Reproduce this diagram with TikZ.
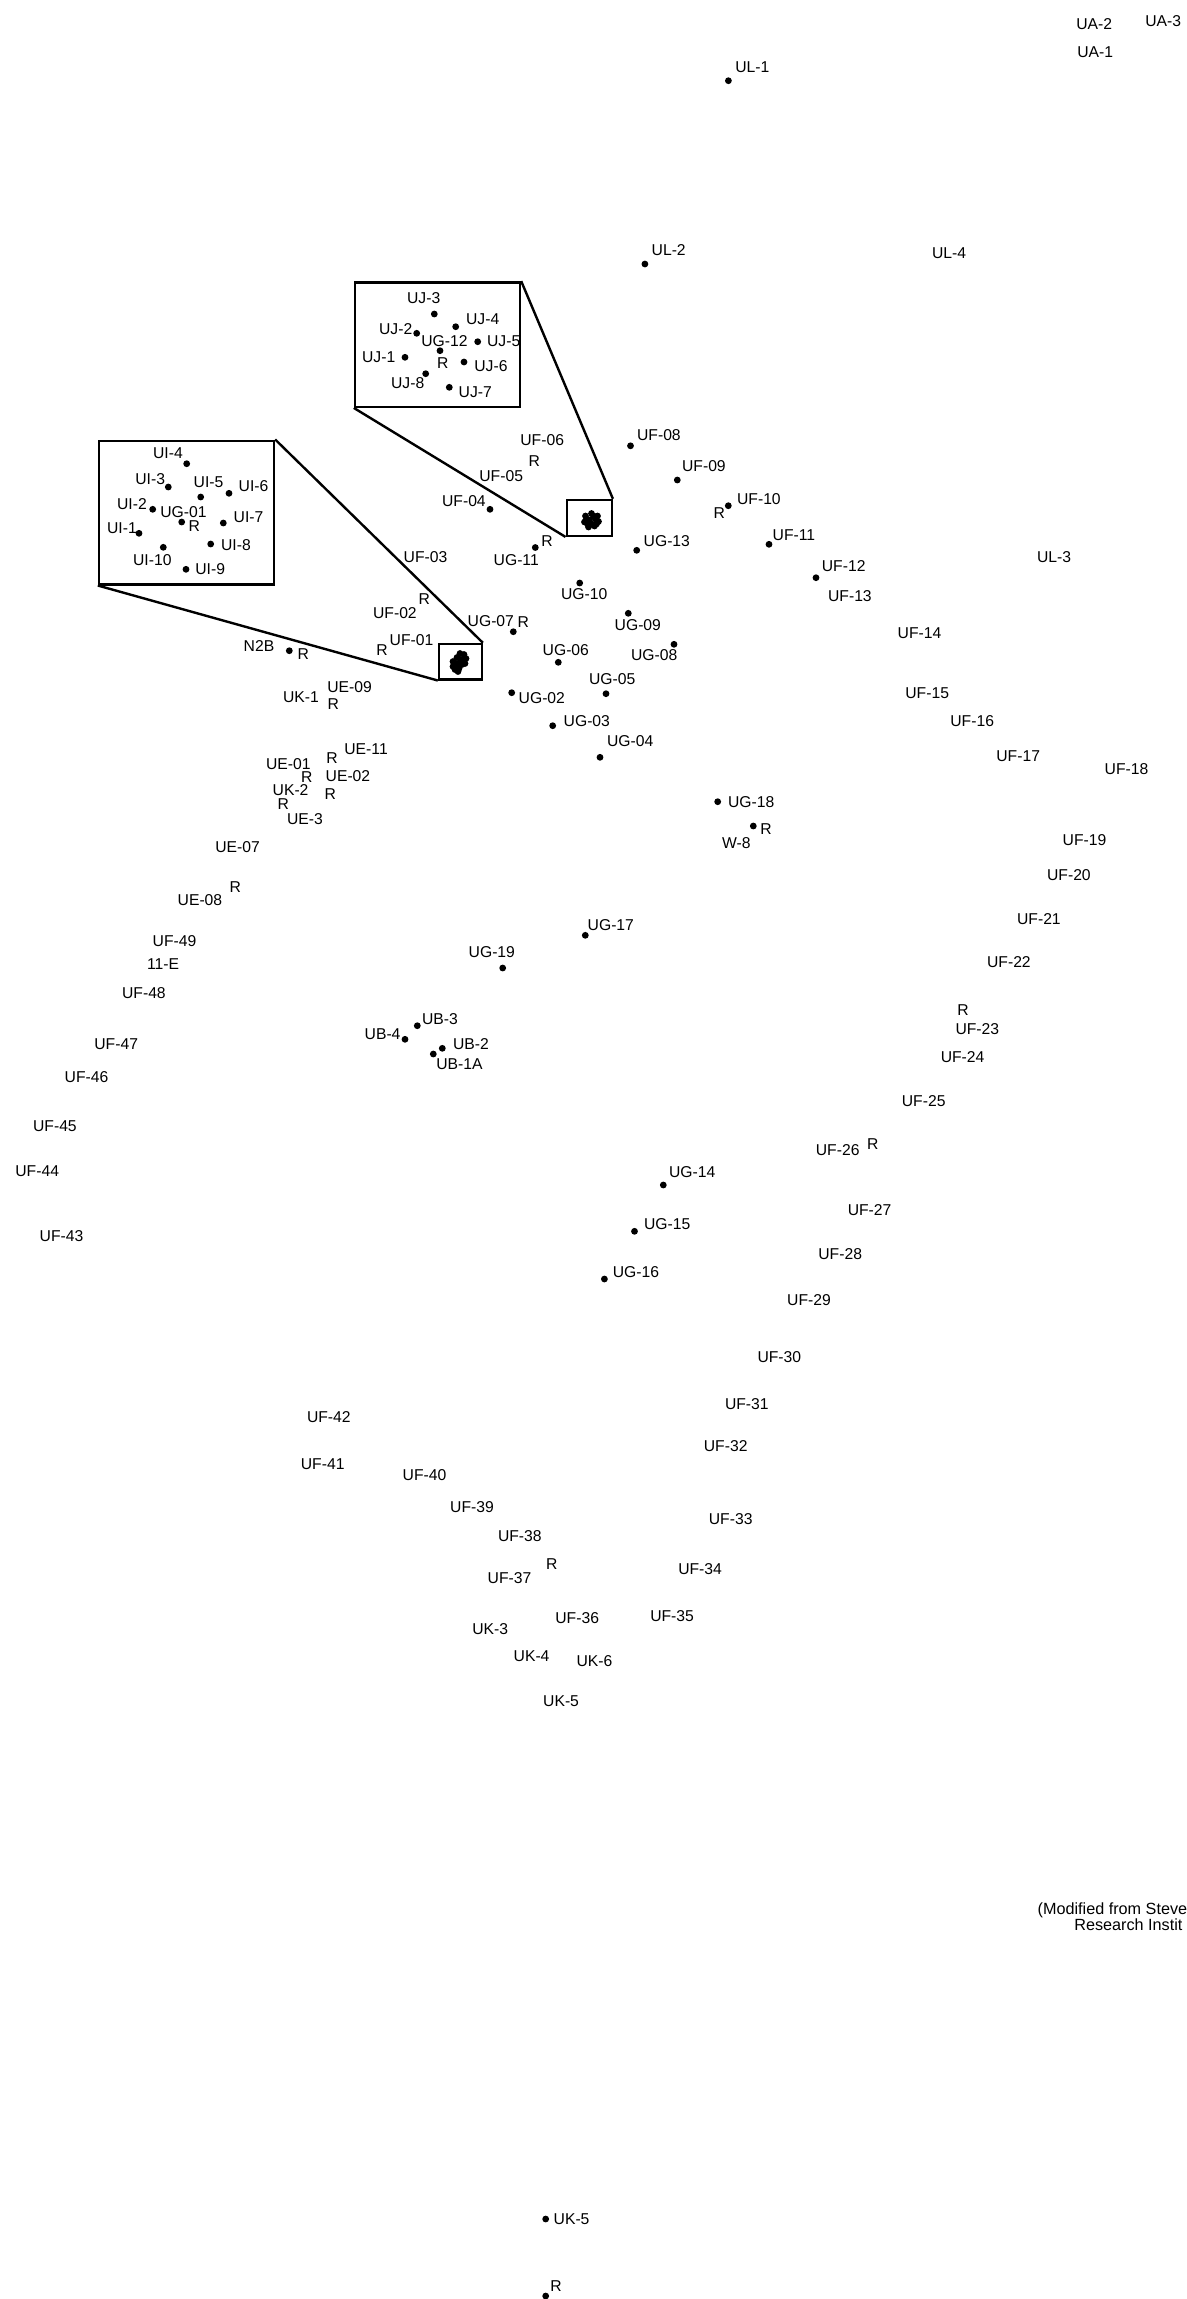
\documentclass[tikz,border=0pt]{standalone}
\usepackage{fontspec}
\setmainfont{Liberation Sans}
\begin{document}
\begin{tikzpicture}[x=0.5pt,y=-0.5pt,
  lbl/.style={anchor=base west,inner sep=0pt,font=\fontsize{7.85}{9}\selectfont},
  notelbl/.style={anchor=base west,inner sep=0pt,font=\fontsize{8.1}{9}\selectfont},
  dot/.style={circle,fill=black,inner sep=0pt,minimum size=3.4pt},
  frame/.style={draw=black,line width=1.2pt,inner sep=0pt},
  zoomline/.style={draw=black,line width=1.2pt}]
\fill[white] (0,0) rectangle (1187,2299);
\useasboundingbox (0,0) rectangle (1187,2299);
% inset frames
\node[frame,minimum width=82.5pt,minimum height=62.2pt] (ujbig) at (437.5,344.5) {};
\node[frame,minimum width=22.5pt,minimum height=17.85pt] (ujsmall) at (589.2,517.85) {};
\node[frame,minimum width=87.5pt,minimum height=71.8pt] (uibig) at (186.5,512.5) {};
\node[frame,minimum width=21.35pt,minimum height=17.65pt] (uismall) at (460.35,661.65) {};
\draw[zoomline] (ujbig.north east) -- (ujsmall.north east);
\draw[zoomline] (ujbig.south west) -- (ujsmall.south west);
\draw[zoomline] (uibig.north east) -- (uismall.north east);
\draw[zoomline] (uibig.south west) -- (uismall.south west);
% clusters
\foreach [count=\i] \dx/\dy in {-6/-4,0/-6.5,6/-4,7/1.5,3/6,-3/7,-7/2,-2/0,4/-1,0/4,-5/-1,2/-4,-4/4,5/4}
  {\node[dot] (cj\i) at (591.5+\dx,520+\dy) {};}
\foreach [count=\i] \dx/\dy in {-6/5,-4/8,-2/2,2/-2,5/-7,7/-3,3/3,-2/-4,0/7,-6/0,4/0,1/-8,-1/10,6/2,-3/6}
  {\node[dot] (ci\i) at (459+\dx,661.5+\dy) {};}
% dots
\foreach [count=\i] \x/\y in {
728.4/80.7, 644.9/264,
434.3/314, 455.7/326.7, 416.7/333.3, 440/350.7, 477.7/341.7, 405/357.3, 464/362, 425.7/373.7, 449.3/387.3,
490/509.3, 630.5/445.8, 677.3/480, 728.3/505.7, 769/544.3, 816/577.7, 535.3/547.5, 636.7/550.3,
579.7/583, 628.3/613.3, 674/644.3, 513.3/631.7, 558.3/662.3, 606/693.7, 511.7/692.7, 552.7/725.7, 600/757.3,
186.7/463.7, 168.3/487, 200.7/497, 229/493.3, 152.7/509.3, 181.7/522, 223.3/523, 139/533.3, 210.7/544, 163.3/547.3, 186/569.3,
289.3/650.7,
717.7/801.7, 753.3/826, 585.3/935.3, 502.7/968,
417.3/1025.7, 405/1039.3, 442.3/1048.3, 433.3/1054,
663.3/1185, 634.5/1231.3, 604.4/1279,
545.7/2219, 545.7/2296}
  {\node[dot] (d\i) at (\x,\y) {};}
% labels
\foreach [count=\i] \x/\y/\t in {
1076/29.3/UA-2, 1145/26/UA-3, 1077/57.3/UA-1, 735/72.7/UL-1, 651.3/255/UL-2, 931.7/258.7/UL-4, 1036.7/562.7/UL-3,
406.7/303.3/UJ-3, 465.7/324.3/UJ-4, 378.7/334.3/UJ-2, 421/346.7/UG-12, 486.7/346.7/UJ-5, 361.7/362.3/UJ-1,
436.7/368.3/R, 474/371.7/UJ-6, 390.7/388.3/UJ-8, 458.3/397.3/UJ-7,
520/445.7/UF-06, 528.3/466.7/R, 479/481.5/UF-05, 441.7/506.5/UF-04, 636.7/440/UF-08, 681.7/471.7/UF-09,
736.7/504/UF-10, 713.3/518.3/R, 772.3/540/UF-11, 821.5/571.7/UF-12, 827.7/601.7/UF-13,
493.3/565/UG-11, 541/546/R, 643.3/546/UG-13, 403.3/562/UF-03, 560.7/599.3/UG-10, 614.3/630/UG-09,
630.7/660/UG-08, 467.3/626.7/UG-07, 517.3/627.7/R, 372.7/618.3/UF-02, 418.3/604/R, 389.3/645.7/UF-01,
376/655.7/R, 542.3/655/UG-06, 588.7/684.3/UG-05, 518.3/703.3/UG-02, 563.3/726.7/UG-03, 606.7/746.7/UG-04,
897.3/638.3/UF-14, 905/698.3/UF-15, 950/726.7/UF-16, 996/761.7/UF-17, 1104.3/774/UF-18, 1062.3/845/UF-19,
1046.7/880/UF-20, 1016.7/924/UF-21, 986.7/967.3/UF-22,
152.7/458.3/UI-4, 135/484/UI-3, 193.3/487.7/UI-5, 238.3/491.7/UI-6, 116.7/509/UI-2, 160/517.3/UG-01,
188.3/531.7/R, 233.3/522.3/UI-7, 106.7/533.3/UI-1, 220.7/550/UI-8, 132.7/565.7/UI-10, 195/574.3/UI-9,
243.3/651.5/N2B, 297.3/659/R, 327/692/UE-09, 282.7/702.3/UK-1, 327.3/709.3/R, 344/754/UE-11, 326/763.3/R,
265.7/769.3/UE-01, 300.7/782.7/R, 325.3/781/UE-02, 272.3/795/UK-2, 324.3/799.3/R, 277.3/809.3/R,
286.7/824.3/UE-3, 215/852.7/UE-07, 229.3/892.3/R, 177.3/905.7/UE-08, 152.3/946/UF-49, 146.7/969.3/11-E,
121.7/998.3/UF-48, 94/1049/UF-47, 64.3/1082.3/UF-46, 32.7/1131.7/UF-45, 15/1176/UF-44, 39.3/1241/UF-43,
727.7/807.7/UG-18, 760/834/R, 721.7/848.7/W-8, 587.3/930/UG-17, 468.3/957.3/UG-19,
421.7/1024/UB-3, 364.3/1039.3/UB-4, 452.7/1049/UB-2, 436/1069/UB-1A,
956.9/1015.7/R, 955.1/1034/UF-23, 940.4/1062.3/UF-24, 901.5/1106.7/UF-25, 815.5/1155/UF-26, 866.7/1149.3/R,
668.6/1177.7/UG-14, 847.4/1215.7/UF-27, 643.7/1229/UG-15, 818/1259/UF-28, 612.4/1277.7/UG-16, 786.8/1305.7/UF-29,
757.1/1362.3/UF-30, 724.6/1409.3/UF-31, 306.6/1422.7/UF-42, 703.5/1451.7/UF-32, 300.5/1469/UF-41,
402.3/1480.7/UF-40, 449.8/1512/UF-39, 708.5/1524.3/UF-33, 497.6/1541/UF-38, 545.8/1569/R, 487.3/1583.3/UF-37,
677.9/1574.3/UF-34, 555/1623.3/UF-36, 649.9/1621.7/UF-35, 472/1634.3/UK-3, 513.3/1661/UK-4, 576.1/1666/UK-6,
542.8/1706/UK-5,
553.3/2224.3/UK-5, 550/2291.7/R}
  {\node[lbl] (t\i) at (\x,\y) {\t};}
\node[notelbl] (note1) at (1037.3,1914.3) {(Modified from Steve};
\node[notelbl] (note2) at (1074,1930) {Research Instit};
\end{tikzpicture}
\end{document}
